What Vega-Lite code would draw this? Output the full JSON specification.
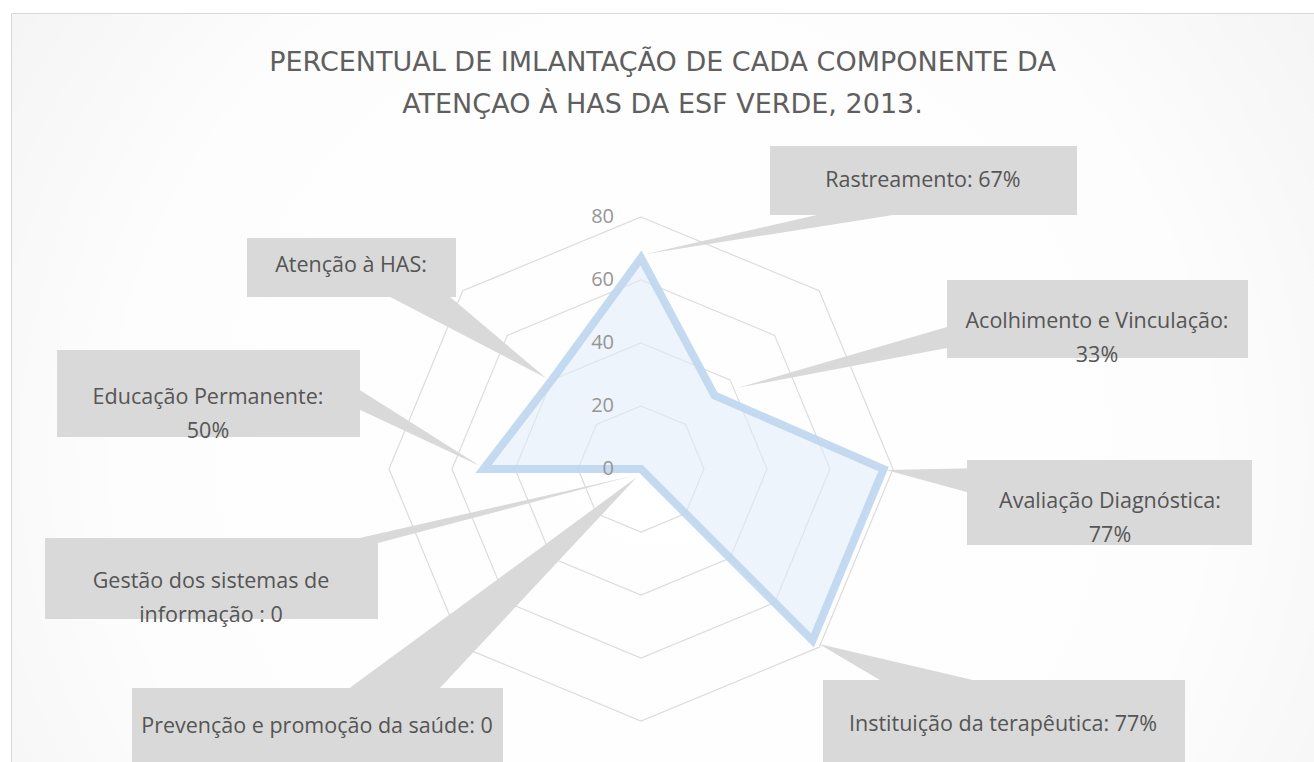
{
  "$schema": "https://vega.github.io/schema/vega-lite/v6.json",
  "width": 1303,
  "height": 749,
  "autosize": {"type": "none"},
  "padding": {"left": 11, "top": 13, "right": 0, "bottom": 0},
  "background": "#ffffff",
  "config": {
    "view": {
      "fill": {"gradient": "radial", "x1": 0.5, "y1": 0.55, "r1": 0, "x2": 0.5, "y2": 0.55, "r2": 0.75,
        "stops": [{"offset": 0, "color": "#ffffff"}, {"offset": 0.55, "color": "#fdfdfd"}, {"offset": 1, "color": "#eeeeee"}]},
      "stroke": "#d9d9d9",
      "strokeWidth": 1
    }
  },
  "title": {
    "text": ["PERCENTUAL  DE IMLANTAÇÃO DE CADA COMPONENTE DA", "ATENÇAO À HAS  DA ESF VERDE, 2013."],
    "anchor": "middle",
    "frame": "group",
    "offset": -106,
    "font": "DejaVu Sans",
    "fontSize": 27,
    "fontWeight": "normal",
    "color": "#5f5f5f",
    "lineHeight": 42
  },
  "datasets": {
    "comp": [
      {"componente": "Rastreamento", "valor": 67, "k": 0},
      {"componente": "Acolhimento e Vinculação", "valor": 33, "k": 1},
      {"componente": "Avaliação Diagnóstica", "valor": 77, "k": 2},
      {"componente": "Instituição da terapêutica", "valor": 77, "k": 3},
      {"componente": "Prevenção e promoção da saúde", "valor": 0, "k": 4},
      {"componente": "Gestão dos sistemas de informação", "valor": 0, "k": 5},
      {"componente": "Educação Permanente", "valor": 50, "k": 6},
      {"componente": "Atenção à HAS", "valor": 40, "k": 7}
    ],
    "grid": [
      {"level": 20, "k": [0, 1, 2, 3, 4, 5, 6, 7]},
      {"level": 40, "k": [0, 1, 2, 3, 4, 5, 6, 7]},
      {"level": 60, "k": [0, 1, 2, 3, 4, 5, 6, 7]},
      {"level": 80, "k": [0, 1, 2, 3, 4, 5, 6, 7]}
    ],
    "ticks": [{"t": 0}, {"t": 20}, {"t": 40}, {"t": 60}, {"t": 80}],
    "callouts": [
      {"id": "Rastreamento", "label": ["Rastreamento: 67%"], "x1": 40.95, "x2": 138.41, "y1": 102.54, "y2": 80.63, "tx": 89.52, "ty": 91.43},
      {"id": "Acolhimento", "label": ["Acolhimento e Vinculação:", "33%"], "x1": 97.14, "x2": 192.7, "y1": 60.0, "y2": 35.24, "tx": 144.76, "ty": 46.67},
      {"id": "Avaliação", "label": ["Avaliação Diagnóstica:", "77%"], "x1": 103.49, "x2": 193.97, "y1": 2.86, "y2": -24.13, "tx": 148.89, "ty": -10.48},
      {"id": "Instituição", "label": ["Instituição da terapêutica: 77%"], "x1": 57.78, "x2": 172.7, "y1": -66.98, "y2": -97.14, "tx": 114.92, "ty": -81.27},
      {"id": "Prevenção", "label": ["Prevenção e promoção da saúde: 0"], "x1": -161.59, "x2": -43.81, "y1": -69.52, "y2": -97.14, "tx": -102.86, "ty": -81.9},
      {"id": "Gestão", "label": ["Gestão dos sistemas de", "informação : 0"], "x1": -189.21, "x2": -83.49, "y1": -21.9, "y2": -47.62, "tx": -136.51, "ty": -36.03},
      {"id": "Educação", "label": ["Educação Permanente:", "50%"], "x1": -185.4, "x2": -89.21, "y1": 37.78, "y2": 10.16, "tx": -137.46, "ty": 22.38},
      {"id": "Atenção", "label": ["Atenção à HAS:"], "x1": -125.08, "x2": -58.73, "y1": 73.33, "y2": 54.6, "tx": -92.06, "ty": 64.44}
    ],
    "wedgesV": [
      {"id": "Rastreamento", "x": 1.59, "y": 68.25, "y2": 68.25},
      {"id": "Rastreamento", "x": 88.57, "y": 88.1, "y2": 82.0},
      {"id": "Acolhimento", "x": 30.48, "y": 25.71, "y2": 25.71},
      {"id": "Acolhimento", "x": 101.27, "y": 46.29, "y2": 39.21},
      {"id": "Avaliação", "x": 77.78, "y": -0.32, "y2": -0.32},
      {"id": "Avaliação", "x": 109.21, "y": 0.32, "y2": -8.89},
      {"id": "Instituição", "x": 56.51, "y": -55.56, "y2": -55.56},
      {"id": "Instituição", "x": 110.79, "y": -68.25, "y2": -87.62},
      {"id": "Educação", "x": -51.11, "y": 0.95, "y2": 0.95},
      {"id": "Educação", "x": -95.56, "y": 29.08, "y2": 21.71}
    ],
    "wedgesH": [
      {"id": "Prevenção", "y": -2.54, "x": -1.27, "x2": -1.27},
      {"id": "Prevenção", "y": -79.68, "x": -106.35, "x2": -73.33},
      {"id": "Gestão", "y": -2.22, "x": -2.86, "x2": -2.86},
      {"id": "Gestão", "y": -28.89, "x": -120.0, "x2": -104.0},
      {"id": "Atenção", "y": 28.89, "x": -30.16, "x2": -30.16},
      {"id": "Atenção", "y": 60.0, "x": -90.0, "x2": -66.98}
    ]
  },
  "layer": [
    {
      "data": {"name": "grid"},
      "transform": [
        {"flatten": ["k"]},
        {"calculate": "datum.level * sin(datum.k * PI / 4)", "as": "gx"},
        {"calculate": "datum.level * cos(datum.k * PI / 4)", "as": "gy"}
      ],
      "mark": {"type": "line", "interpolate": "linear-closed", "stroke": "#dcdcdc", "strokeWidth": 1.2},
      "encoding": {
        "x": {"field": "gx", "type": "quantitative", "scale": {"domain": [-200, 213.65], "nice": false, "zero": false}, "axis": null},
        "y": {"field": "gy", "type": "quantitative", "scale": {"domain": [-93.02, 144.76], "nice": false, "zero": false}, "axis": null},
        "detail": {"field": "level", "type": "nominal"},
        "order": {"field": "k", "type": "quantitative"}
      }
    },
    {
      "data": {"name": "comp"},
      "transform": [
        {"calculate": "datum.valor * sin(datum.k * PI / 4)", "as": "px"},
        {"calculate": "datum.valor * cos(datum.k * PI / 4)", "as": "py"}
      ],
      "mark": {"type": "line", "interpolate": "linear-closed", "fill": "#deebf7", "fillOpacity": 0.55, "stroke": "#bcd6ee", "strokeOpacity": 0.9, "strokeWidth": 8, "strokeJoin": "miter"},
      "encoding": {
        "x": {"field": "px", "type": "quantitative", "scale": {"domain": [-200, 213.65], "nice": false, "zero": false}, "axis": null},
        "y": {"field": "py", "type": "quantitative", "scale": {"domain": [-93.02, 144.76], "nice": false, "zero": false}, "axis": null},
        "order": {"field": "k", "type": "quantitative"}
      }
    },
    {
      "data": {"name": "wedgesV"},
      "mark": {"type": "area", "color": "#d9d9d9", "opacity": 1},
      "encoding": {
        "x": {"field": "x", "type": "quantitative", "scale": {"domain": [-200, 213.65], "nice": false, "zero": false}, "axis": null},
        "y": {"field": "y", "type": "quantitative", "scale": {"domain": [-93.02, 144.76], "nice": false, "zero": false}, "axis": null},
        "y2": {"field": "y2"},
        "detail": {"field": "id", "type": "nominal"}
      }
    },
    {
      "data": {"name": "wedgesH"},
      "mark": {"type": "area", "color": "#d9d9d9", "opacity": 1},
      "encoding": {
        "y": {"field": "y", "type": "quantitative", "scale": {"domain": [-93.02, 144.76], "nice": false, "zero": false}, "axis": null},
        "x": {"field": "x", "type": "quantitative", "scale": {"domain": [-200, 213.65], "nice": false, "zero": false}, "axis": null},
        "x2": {"field": "x2"},
        "detail": {"field": "id", "type": "nominal"}
      }
    },
    {
      "data": {"name": "callouts"},
      "mark": {"type": "rect", "color": "#d9d9d9", "opacity": 1},
      "encoding": {
        "x": {"field": "x1", "type": "quantitative", "scale": {"domain": [-200, 213.65], "nice": false, "zero": false}, "axis": null},
        "x2": {"field": "x2"},
        "y": {"field": "y1", "type": "quantitative", "scale": {"domain": [-93.02, 144.76], "nice": false, "zero": false}, "axis": null},
        "y2": {"field": "y2"}
      }
    },
    {
      "data": {"name": "callouts"},
      "mark": {"type": "text", "font": "Open Sans", "fontSize": 21.5, "color": "#555555", "align": "center", "baseline": "middle", "lineHeight": 34},
      "encoding": {
        "x": {"field": "tx", "type": "quantitative", "scale": {"domain": [-200, 213.65], "nice": false, "zero": false}, "axis": null},
        "y": {"field": "ty", "type": "quantitative", "scale": {"domain": [-93.02, 144.76], "nice": false, "zero": false}, "axis": null},
        "text": {"field": "label"}
      }
    },
    {
      "data": {"name": "ticks"},
      "mark": {"type": "text", "font": "Open Sans", "fontSize": 20, "color": "#969696", "align": "right", "baseline": "middle", "dx": -27},
      "encoding": {
        "x": {"datum": 0, "type": "quantitative", "scale": {"domain": [-200, 213.65], "nice": false, "zero": false}, "axis": null},
        "y": {"field": "t", "type": "quantitative", "scale": {"domain": [-93.02, 144.76], "nice": false, "zero": false}, "axis": null},
        "text": {"field": "t", "type": "quantitative"}
      }
    }
  ]
}
